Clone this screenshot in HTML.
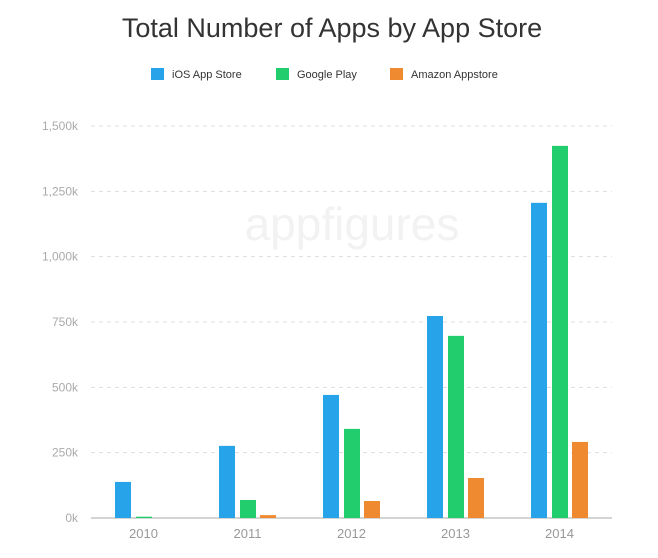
<!DOCTYPE html>
<html><head><meta charset="utf-8"><style>
body{margin:0;background:#fff;font-family:"Liberation Sans",sans-serif}
svg text{font-family:"Liberation Sans",sans-serif}
</style></head><body>
<svg width="658" height="553" id="c">
<text x="332" y="37" text-anchor="middle" font-size="27" fill="#333">Total Number of Apps by App Store</text>
<text x="352" y="240" text-anchor="middle" font-size="46" fill="#f2f2f2">appfigures</text>
<g id="grid"></g><g id="bars"></g><g id="legend"></g>
</svg>
<script>
const categories=["2010","2011","2012","2013","2014"];
const iosValues=[138,276,471,773,1206];
const googleValues=[5,69,341,697,1424];
const amazonValues=[0,11,65,153,291];
const ticks=[0,250,500,750,1000,1250,1500];
const tickLabels=["0k","250k","500k","750k","1,000k","1,250k","1,500k"];
const seriesNames=["iOS App Store","Google Play","Amazon Appstore"];
const colors=["#27a3ea","#22cd6e","#f08a30"];
const NS="http://www.w3.org/2000/svg";
const y=v=>518-v*(392/1500);
const x=i=>91.5+i*104;
function mk(t,a,p){const e=document.createElementNS(NS,t);for(const k in a)e.setAttribute(k,a[k]);p.appendChild(e);return e;}
const g=document.getElementById('grid'),b=document.getElementById('bars'),lg=document.getElementById('legend');
ticks.forEach((t,i)=>{
 if(t>0){const l=mk('line',{x1:91,x2:612,y1:y(t),y2:y(t),stroke:'#ddd','stroke-dasharray':'4,4'},g);
 
 }
 const tx=mk('text',{x:78,y:y(t)+4,'text-anchor':'end','font-size':12,fill:'#aaa'},g);tx.textContent=tickLabels[i];
 
 
});
const ax=mk('line',{x1:91,x2:612,y1:518,y2:518,stroke:'#aaa'},g);


const series=[iosValues,googleValues,amazonValues];const offs=[23.5,44.5,64.5];
categories.forEach((c,i)=>{
 series.forEach((s,j)=>{const r=mk('rect',{x:x(i)+offs[j],y:y(s[i]),width:16,height:518-y(s[i]),fill:colors[j]},b);
 
 });
 const t=mk('text',{x:x(i)+52,y:538,'text-anchor':'middle','font-size':13,fill:'#999'},b);t.textContent=c;
 
 
});
const lx=[151,276,390];
seriesNames.forEach((n,j)=>{
 const r=mk('rect',{x:lx[j],y:68,width:13,height:12,fill:colors[j]},lg);
 
 
 const t=mk('text',{x:lx[j]+21,y:78,'font-size':11,fill:'#333'},lg);t.textContent=n;
 
 
});
</script>
</body></html>
